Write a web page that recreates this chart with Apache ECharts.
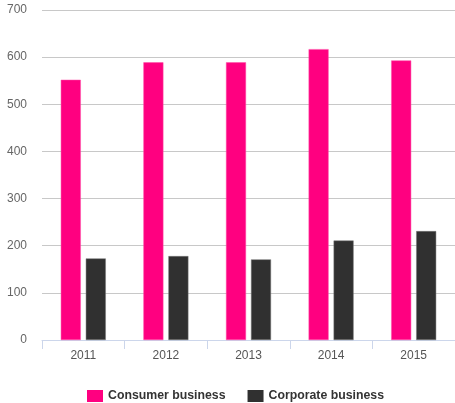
<!DOCTYPE html>
<html>
<head>
<meta charset="utf-8">
<script src="https://cdn.jsdelivr.net/npm/echarts@6/dist/echarts.min.js"></script>
<style>
  html, body { margin: 0; padding: 0; background: #fff; }
  #chart { width: 455px; height: 403px; }
</style>
</head>
<body>
<div id="chart"></div>
<script>
// Revenue by business segment, 2011–2015
const years = ['2011', '2012', '2013', '2014', '2015'];
const consumerBusiness = [552, 589, 589, 617, 593];
const corporateBusiness = [173, 178, 171, 211, 231];
const seriesNames = ['Consumer business', 'Corporate business'];

const chart = echarts.init(document.getElementById('chart'), null, { renderer: 'canvas' });

const font = 'Liberation Sans, Arial, sans-serif';

chart.setOption({
  animation: false,
  grid: { left: 42, right: 0, top: 10, bottom: 63, containLabel: false },
  legend: {
    data: seriesNames,
    bottom: 1,
    left: 87,
    padding: 0,
    itemWidth: 16,
    itemHeight: 12,
    itemGap: 22,
    icon: 'rect',
    itemStyle: { borderWidth: 0 },
    textStyle: { fontFamily: font, fontSize: 12.3, fontWeight: 'bold', color: '#333', padding: [0, 0, 0, 0] }
  },
  xAxis: {
    type: 'category',
    data: years,
    axisLine: { show: true, lineStyle: { color: '#ccd6eb', width: 1 } },
    axisTick: { show: true, length: 9, lineStyle: { color: '#ccd6eb' } },
    axisLabel: { fontFamily: font, fontSize: 12, color: '#555', margin: 10 }
  },
  yAxis: {
    type: 'value',
    min: 0,
    max: 700,
    interval: 100,
    axisLine: { show: false },
    axisTick: { show: false },
    axisLabel: { fontFamily: font, fontSize: 12, color: '#666', margin: 15 },
    splitLine: { lineStyle: { color: '#c8c8c8', width: 1 } }
  },
  series: [
    {
      name: seriesNames[0],
      type: 'bar',
      data: consumerBusiness,
      barWidth: 20,
      barGap: '25%',
      itemStyle: { color: '#ff0080', borderColor: '#ff4da6', borderWidth: 0.5 }
    },
    {
      name: seriesNames[1],
      type: 'bar',
      data: corporateBusiness,
      barWidth: 20,
      itemStyle: { color: '#303030', borderColor: '#777', borderWidth: 0.5 }
    }
  ]
});
</script>
</body>
</html>
